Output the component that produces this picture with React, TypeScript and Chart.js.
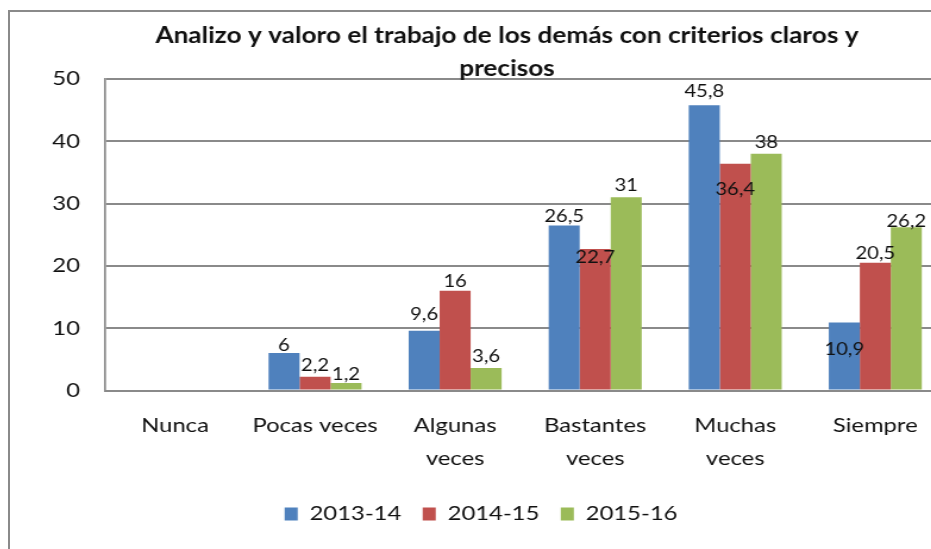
import React, { useEffect, useRef } from 'react';
import { Chart, registerables } from 'chart.js';

Chart.register(...registerables);

const TITLE_LINES = ['Analizo y valoro el trabajo de los demás con criterios claros y', 'precisos'];
const CATEGORIES = ['Nunca', 'Pocas veces', ['Algunas', 'veces'], ['Bastantes', 'veces'], ['Muchas', 'veces'], 'Siempre'];
const SERIES_NAMES = ['2013-14', '2014-15', '2015-16'];
const VALUES_2013_14 = [0, 6, 9.6, 26.5, 45.8, 10.9];
const VALUES_2014_15 = [0, 2.2, 16, 22.7, 36.4, 20.5];
const VALUES_2015_16 = [0, 1.2, 3.6, 31, 38, 26.2];
const Y_MIN = 0;
const Y_MAX = 50;
const Y_STEP = 10;

// label placement (vertical shift of the value label relative to the bar top)
const LABEL_SHIFT_2013_14 = [0, -8, -16, -9, -14, 27];
const LABEL_SHIFT_2014_15 = [0, -11, -9, 8, 26, -9];
const LABEL_SHIFT_2015_16 = [0, -9, -12, -12, -11, -6];

const COLORS = ['#4F81BD', '#C0504D', '#9BBB59'];
const TEXT = '#111111';
const LINE = '#8a8a8a';
const FONT = 'Lato, "Open Sans", sans-serif';
const STRETCH = 1.19;
const CW = 786;
const CH = 540;

const SERIES = [VALUES_2013_14, VALUES_2014_15, VALUES_2015_16];
const SHIFTS = [LABEL_SHIFT_2013_14, LABEL_SHIFT_2014_15, LABEL_SHIFT_2015_16];

const titlePlugin = {
  id: 'excelTitle',
  afterDraw(chart: any) {
    const ctx = chart.ctx;
    ctx.save();
    ctx.font = `bold 22px ${FONT}`;
    ctx.fillStyle = TEXT;
    ctx.textAlign = 'center';
    ctx.textBaseline = 'alphabetic';
    const cx = 417.6;
    ctx.fillText(TITLE_LINES[0], cx, 30.7);
    ctx.fillText(TITLE_LINES[1], cx, 63.5);
    ctx.restore();
  },
};

const valueLabelPlugin = {
  id: 'valueLabels',
  afterDatasetsDraw(chart: any) {
    const ctx = chart.ctx;
    ctx.save();
    ctx.font = `17px ${FONT}`;
    ctx.fillStyle = TEXT;
    ctx.textAlign = 'center';
    ctx.textBaseline = 'middle';
    chart.data.datasets.forEach((ds: any, di: number) => {
      const meta = chart.getDatasetMeta(di);
      meta.data.forEach((bar: any, i: number) => {
        const v = ds.data[i];
        if (!v) return;
        const txt = String(v).replace('.', ',');
        ctx.fillText(txt, bar.x, bar.y + SHIFTS[di][i]);
      });
    });
    ctx.restore();
  },
};

export default function App() {
  const ref = useRef<HTMLCanvasElement>(null);
  useEffect(() => {
    const chart = new Chart(ref.current as HTMLCanvasElement, {
      type: 'bar',
      data: {
        labels: CATEGORIES as any,
        datasets: SERIES.map((d, i) => ({
          label: SERIES_NAMES[i],
          data: d,
          backgroundColor: COLORS[i],
          borderWidth: 0,
          categoryPercentage: 0.664,
          barPercentage: 1.0,
        })),
      },
      options: {
        responsive: false,
        animation: false,
        devicePixelRatio: 1,
        layout: { padding: { top: 67, left: 5.6, right: 0, bottom: 18 } },
        plugins: {
          title: { display: false },
          tooltip: { enabled: false },
          legend: {
            position: 'bottom',
            labels: {
              boxWidth: 11,
              boxHeight: 13,
              padding: 18,
              color: TEXT,
              font: { family: FONT, size: 20 },
            },
          },
        },
        scales: {
          x: {
            grid: { display: false, drawTicks: false },
            border: { display: true, color: LINE, width: 2 },
            ticks: {
              color: TEXT,
              font: { family: FONT, size: 20, lineHeight: 1.65 },
              padding: 18.5,
              maxRotation: 0,
              autoSkip: false,
            },
            afterFit: (s: any) => { s.height = 95.5; },
          },
          y: {
            min: Y_MIN,
            max: Y_MAX,
            ticks: {
              stepSize: Y_STEP,
              color: TEXT,
              padding: 21,
              font: { family: FONT, size: 20 },
            },
            grid: { color: LINE, lineWidth: 2, drawTicks: false },
            border: { display: true, color: LINE, width: 1.7 },
            afterFit: (s: any) => { s.width = 74.2; },
          },
        },
      },
      plugins: [titlePlugin, valueLabelPlugin],
    });
    return () => chart.destroy();
  }, []);

  return (
    <div style={{ position: 'fixed', left: 0, top: 0, width: 931, height: 549, overflow: 'hidden', background: '#ffffff' }}>
      <div style={{ position: 'absolute', left: 8, top: 10, width: 1200, height: 800, border: `2px solid ${LINE}`, boxSizing: 'border-box' }} />
      <div style={{ position: 'absolute', left: 10, top: 12, width: CW, height: CH, transform: `scaleX(${STRETCH})`, transformOrigin: '0 0' }}>
        <canvas ref={ref} width={CW} height={CH} style={{ display: 'block', width: CW, height: CH }} />
      </div>
    </div>
  );
}
